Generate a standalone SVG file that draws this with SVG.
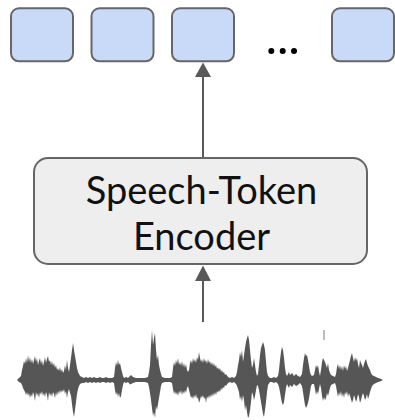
<svg xmlns="http://www.w3.org/2000/svg" width="395" height="420" viewBox="0 0 395 420">
  <style>
    .token { fill: #c9daf8; stroke: #666666; stroke-width: 2; }
    .encoder { fill: #eeeeee; stroke: #666666; stroke-width: 2; }
    .label { font-family: Lato, "Liberation Sans", sans-serif; font-size: 38px; fill: #111111; text-anchor: middle; }
    .edge { stroke: #595959; stroke-width: 2; fill: none; }
    .head { fill: #595959; }
    .wave { fill: #565656; }
  </style>
  <rect width="395" height="420" fill="#ffffff"/>

  <!-- output token slots -->
  <g id="token-1"><rect class="token" x="11" y="8.3" width="62" height="53" rx="8"/></g>
  <g id="token-2"><rect class="token" x="91.5" y="8.3" width="62" height="53" rx="8"/></g>
  <g id="token-3"><rect class="token" x="172" y="8.3" width="62" height="53" rx="8"/></g>
  <g id="ellipsis">
    <circle cx="271.3" cy="51" r="3" fill="#000"/>
    <circle cx="282.7" cy="51" r="3" fill="#000"/>
    <circle cx="294" cy="51" r="3" fill="#000"/>
  </g>
  <g id="token-n"><rect class="token" x="332" y="8.3" width="62" height="53" rx="8"/></g>

  <!-- encoder block -->
  <g id="encoder">
    <rect class="encoder" x="34" y="158" width="333" height="106" rx="14"/>
    <text class="label" x="201.5" y="203.5">Speech-Token</text>
    <text class="label" x="201.5" y="249.5">Encoder</text>
  </g>

  <!-- connectors -->
  <g id="connectors">
    <line class="edge" x1="203" y1="76" x2="203" y2="157"/>
    <polygon class="head" points="203,62.5 195,77 211,77"/>
    <line class="edge" x1="203" y1="280" x2="203" y2="322"/>
    <polygon class="head" points="203,265.5 195,281 211,281"/>
  </g>

  <!-- input audio waveform -->
  <g id="waveform">
    <polygon class="wave" points="17,380 19,378 21,376 22,370 23,366 24,361 25,364 26,358 27,363 28,355 29,362 30,357 31,363 32,359 33,364 34,360 35,356 36,362 37,358 38,365 39,361 40,358 41,364 42,360 43,366 44,362 45,357 46,363 47,359 48,356 49,362 50,360 51,365 52,361 53,366 54,363 55,368 56,365 57,370 58,368 59,371 60,367 61,372 62,369 63,373 64,371 65,365 66,370 67,360 68,368 69,372 70,365 71,358 72,350 73,343 74,350 75,356 76,362 77,368 78,372 79,374 80,376 82,377 84,378 86,377 88,378 90,377 92,378 94,377 96,378 98,378 100,377 102,378 104,378 106,377 108,378 110,378 112,378 114,377 115,368 116,362 117,366 118,360 119,365 120,363 121,368 122,372 123,376 124,378 126,377 128,378 130,376 131,375 133,377 136,378 140,378 145,378 148,377 149,372 150,365 151,345 152,330 153,345 154,338 155,333 156,350 157,360 158,355 159,365 160,370 161,374 162,377 165,378 170,378 172,377 173,368 174,362 175,366 176,360 177,364 178,358 179,365 180,362 181,366 182,361 183,367 184,363 185,368 186,364 187,370 188,372 189,370 190,363 191,360 192,364 193,358 194,362 195,359 196,363 197,357 198,360 199,352 200,358 201,362 202,359 203,363 204,358 205,362 206,360 207,364 208,359 209,363 210,361 211,365 212,362 213,366 214,363 215,367 216,365 217,369 218,367 219,370 220,368 221,372 222,370 223,373 224,372 225,375 226,374 228,377 230,378 232,377 234,378 236,376 237,372 238,365 239,360 240,352 241,357 242,350 243,362 244,355 245,348 246,342 247,338 248,335 249,340 250,350 251,360 252,368 253,365 254,358 255,365 256,372 257,376 258,374 259,365 260,355 261,348 262,345 263,342 264,345 265,350 266,362 267,372 268,376 270,378 272,378 274,377 276,378 278,376 279,370 280,360 281,352 282,347 283,350 284,358 285,368 286,374 287,376 289,372 290,375 292,373 294,376 296,374 298,376 300,377 302,374 303,365 304,358 305,353 306,356 307,355 308,360 309,366 310,372 311,375 312,376 314,375 315,370 316,365 317,368 318,365 319,372 320,376 321,370 322,362 323,358 324,360 325,362 326,365 327,368 328,363 329,370 330,373 331,375 333,376 335,377 336,374 337,367 338,364 339,369 340,365 341,370 342,366 343,371 344,365 345,369 346,366 347,371 348,368 349,364 350,360 351,356 352,353 353,358 354,362 355,357 356,361 357,358 358,364 359,368 360,360 361,363 362,365 363,368 364,364 365,361 366,359 367,363 368,366 369,368 370,370 371,373 372,375 374,376 376,377 378,378 380,378.5 383,380 380,381.5 378,382 376,383 374,384 372,386 371,389 370,392 369,396 368,399 367,394 366,398 365,400 364,396 363,393 362,396 361,400 360,403 359,397 358,394 357,399 356,402 355,398 354,395 353,400 352,403 351,399 350,396 349,393 348,397 347,391 346,395 345,392 344,398 343,393 342,397 341,391 340,396 339,392 338,397 337,392 336,386 335,383 333,384 331,385 330,388 329,392 328,396 327,393 326,398 325,400 324,397 323,401 322,396 321,388 320,384 319,389 318,394 317,391 316,395 315,389 314,384 312,384 311,386 310,392 309,398 308,403 307,406 306,408 305,405 304,399 303,392 302,386 300,383 298,385 296,386 294,384 292,387 290,385 289,388 287,384 286,388 285,395 284,402 283,405 282,403 281,398 280,392 279,387 278,384 276,382 274,383 272,382 270,382 268,385 267,392 266,402 265,410 264,417 263,414 262,408 261,402 260,396 259,390 258,386 257,385 256,390 255,396 254,400 253,395 252,392 251,402 250,410 249,416 248,418 247,412 246,405 245,410 244,400 243,395 242,402 241,396 240,400 239,392 238,389 237,386 236,384 234,382 232,383 230,382 228,383 226,386 225,385 224,388 223,387 222,390 221,388 220,392 219,390 218,393 217,391 216,395 215,392 214,396 213,393 212,397 211,394 210,398 209,395 208,399 207,396 206,403 205,397 204,399 203,395 202,398 201,396 200,400 199,403 198,397 197,399 196,394 195,398 194,395 193,399 192,396 191,398 190,394 189,390 188,386 187,388 186,393 185,390 184,394 183,391 182,395 181,390 180,394 179,391 178,396 177,392 176,395 175,391 174,394 173,389 172,383 170,382 165,382 162,383 161,386 160,392 159,398 158,404 157,410 156,406 155,418 154,412 153,416 152,408 151,400 150,393 149,387 148,383 145,382 140,382 136,382 133,383 131,384 130,384.5 128,382 126,383 124,382 123,385 122,390 121,396 120,398 119,393 118,397 117,392 116,395 115,390 114,383 112,382 110,383 108,382 106,383 104,382 102,382 100,383 98,382 96,383 94,382 92,383 90,382 88,383 86,382 84,383 82,383 80,384 79,386 78,389 77,394 76,402 75,410 74,417 73,412 72,404 71,396 70,393 69,389 68,392 67,398 66,391 65,394 64,389 63,392 62,390 61,393 60,390 59,394 58,391 57,396 56,392 55,398 54,394 53,392 52,397 51,393 50,396 49,392 48,401 47,395 46,392 45,397 44,393 43,396 42,391 41,395 40,392 39,398 38,393 37,396 36,392 35,401 34,395 33,392 32,397 31,394 30,398 29,393 28,396 27,392 26,395 25,392 24,390 23,388 22,385 21,383 19,382"/>
    <line x1="324" y1="330" x2="324" y2="340" stroke="#bdbdbd" stroke-width="2"/>
  </g>
</svg>
